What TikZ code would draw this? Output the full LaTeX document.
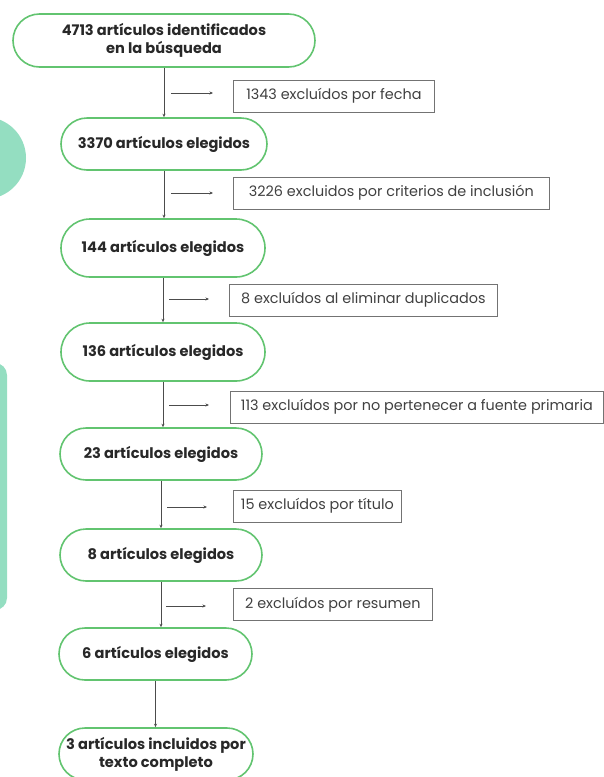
\documentclass[tikz,border=0pt]{standalone}
\usepackage{fontspec}
\setmainfont{Poppins}
\usetikzlibrary{shapes.misc,arrows.meta}
\definecolor{verde}{RGB}{98,196,112}
\definecolor{menta}{RGB}{148,222,193}
\definecolor{tinta}{RGB}{40,40,40}
\tikzset{
  paso/.style={rounded rectangle, draw=verde, line width=1.6pt, fill=white,
    font=\bfseries\fontsize{14.6}{18}\selectfont, text=tinta, align=center,
    minimum height=52pt, inner xsep=0pt},
  excl/.style={draw=black!55, line width=0.8pt, font=\fontsize{14.4}{16}\selectfont,
    text=black!75, minimum height=32pt, inner xsep=3pt, anchor=west},
  flecha/.style={-{Stealth[length=3.5pt,width=3pt]}, line width=0.9pt, draw=black!70}
}
\begin{document}
\begin{tikzpicture}[x=1pt,y=-1pt]
                        \useasboundingbox (0,0) rectangle (604,777);
                        \clip (0,0) rectangle (604,777);
                        \fill[menta] (-15,158) circle (41pt);
                        \fill[menta, rounded corners=12pt] (-40,363) rectangle (7,610);

                        \node[paso, minimum width=302pt, minimum height=53pt] (n1) at (164,40.5) {4713 artículos identificados\\en la búsqueda};
                        \node[paso, minimum width=206pt] (n2) at (164,144) {3370 artículos elegidos};
                        \node[paso, minimum width=204pt, minimum height=58pt] (n3) at (163,248) {144 artículos elegidos};
                        \node[paso, minimum width=204pt, minimum height=58pt] (n4) at (163,352) {136 artículos elegidos};
                        \node[paso, minimum width=202pt] (n5) at (161,454) {23 artículos elegidos};
                        \node[paso, minimum width=202pt] (n6) at (161,555) {8 artículos elegidos};
                        \node[paso, minimum width=193pt] (n7) at (155.5,654) {6 artículos elegidos};
                        \node[paso, minimum width=194pt] (n8) at (156,754) {3 artículos incluidos por\\texto completo};

                        \node[excl, minimum width=201pt] (e1) at (233,96) {1343 excluídos por fecha};
                        \node[excl, minimum width=316pt] (e2) at (233,193) {3226 excluidos por criterios de inclusión};
                        \node[excl, minimum width=268pt] (e3) at (229,300) {8 excluídos al eliminar duplicados};
                        \node[excl, minimum width=373pt] (e4) at (230,407) {113 excluídos por no pertenecer a fuente primaria};
                        \node[excl, minimum width=168pt] (e5) at (233,506) {15 excluídos por título};
                        \node[excl, minimum width=199pt] (e6) at (233,604.5) {2 excluídos por resumen};

                        \draw[flecha] (n1.south) -- (n1.south |- n2.north);
                        \draw[flecha] (n2.south) -- (n2.south |- n3.north);
                        \draw[flecha] (n3.south) -- (n3.south |- n4.north);
                        \draw[flecha] (n4.south) -- (n4.south |- n5.north);
                        \draw[flecha] (n5.south) -- (n5.south |- n6.north);
                        \draw[flecha] (n6.south) -- (n6.south |- n7.north);
                        \draw[flecha] (n7.south) -- (n7.south |- n8.north);

                        \coordinate (h1) at (171,93);
                        \coordinate (h2) at (171,193);
                        \coordinate (h3) at (169,299);
                        \coordinate (h4) at (169,405);
                        \coordinate (h5) at (167,507);
                        \coordinate (h6) at (166,606);
                        \draw[flecha] (h1) -- ++(42,0);
                        \draw[flecha] (h2) -- ++(42,0);
                        \draw[flecha] (h3) -- ++(40,0);
                        \draw[flecha] (h4) -- ++(40,0);
                        \draw[flecha] (h5) -- ++(40,0);
                        \draw[flecha] (h6) -- ++(40,0);
                    \end{tikzpicture}
\end{document}
